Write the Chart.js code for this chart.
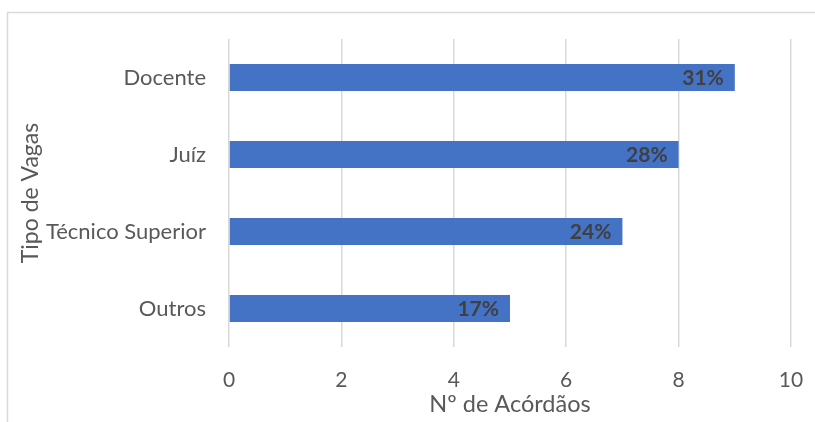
<!DOCTYPE html>
<html>
<head>
<meta charset="utf-8">
<style>
  html, body { margin: 0; padding: 0; background: #ffffff; }
  #wrap { width: 815px; height: 422px; position: relative; }
</style>
<script src="https://cdn.jsdelivr.net/npm/chart.js@4/dist/chart.umd.min.js"></script>
</head>
<body>
<div id="wrap"><canvas id="c" width="815" height="422"></canvas></div>
<script>
const categories = ['Docente', 'Juíz', 'Técnico Superior', 'Outros'];
const acordaos = [9, 8, 7, 5];
const percentLabels = ['31%', '28%', '24%', '17%'];
const xTickValues = [0, 2, 4, 6, 8, 10];
const xTitle = 'Nº de Acórdãos';
const yTitle = 'Tipo de Vagas';

const FONT = 'Lato, Carlito, Calibri, sans-serif';

const frameBorder = {
  id: 'frameBorder',
  beforeDraw(chart) {
    const ctx = chart.ctx;
    ctx.save();
    ctx.strokeStyle = '#d9d9d9';
    ctx.lineWidth = 1.5;
    ctx.beginPath();
    ctx.moveTo(7.5, chart.height);
    ctx.lineTo(7.5, 12.5);
    ctx.lineTo(chart.width, 12.5);
    ctx.stroke();
    ctx.restore();
  }
};

const barLabels = {
  id: 'barLabels',
  afterDatasetsDraw(chart) {
    const ctx = chart.ctx;
    const meta = chart.getDatasetMeta(0);
    ctx.save();
    ctx.font = 'bold 21px ' + FONT;
    ctx.fillStyle = '#404040';
    ctx.textAlign = 'right';
    ctx.textBaseline = 'middle';
    meta.data.forEach((bar, i) => {
      ctx.fillText(percentLabels[i], bar.x - 11, bar.y + 1);
    });
    ctx.restore();
  }
};

new Chart(document.getElementById('c'), {
  type: 'bar',
  data: {
    labels: categories,
    datasets: [{
      data: acordaos,
      backgroundColor: '#4472C4',
      borderWidth: 0,
      categoryPercentage: 1,
      barPercentage: 0.35
    }]
  },
  options: {
    indexAxis: 'y',
    responsive: false,
    animation: false,
    layout: { padding: { left: 0, top: 39, right: 24, bottom: 0 } },
    plugins: {
      legend: { display: false },
      tooltip: { enabled: false }
    },
    scales: {
      x: {
        min: 0,
        max: 10,
        afterBuildTicks(scale) { scale.ticks = xTickValues.map(v => ({ value: v })); },
        afterFit(scale) { scale.height = 75; scale.paddingLeft = 0; scale.paddingRight = 0; },
        grid: { color: '#d9d9d9', lineWidth: 1.5, drawTicks: false },
        border: { display: false },
        ticks: { color: '#595959', font: { family: FONT, size: 21 }, padding: 21 },
        title: {
          display: true, text: xTitle, color: '#595959',
          font: { family: FONT, size: 23.5 }, padding: { top: 0, bottom: 3 }
        }
      },
      y: {
        afterFit(scale) { scale.width = 229; scale.paddingTop = 0; scale.paddingBottom = 0; },
        grid: { display: false, drawTicks: false },
        border: { display: false },
        ticks: { color: '#595959', font: { family: FONT, size: 22 }, padding: 23 },
        title: {
          display: true, text: yTitle, color: '#595959',
          font: { family: FONT, size: 23 }, padding: { top: 17, bottom: 0 }
        }
      }
    }
  },
  plugins: [frameBorder, barLabels]
});
</script>
</body>
</html>
